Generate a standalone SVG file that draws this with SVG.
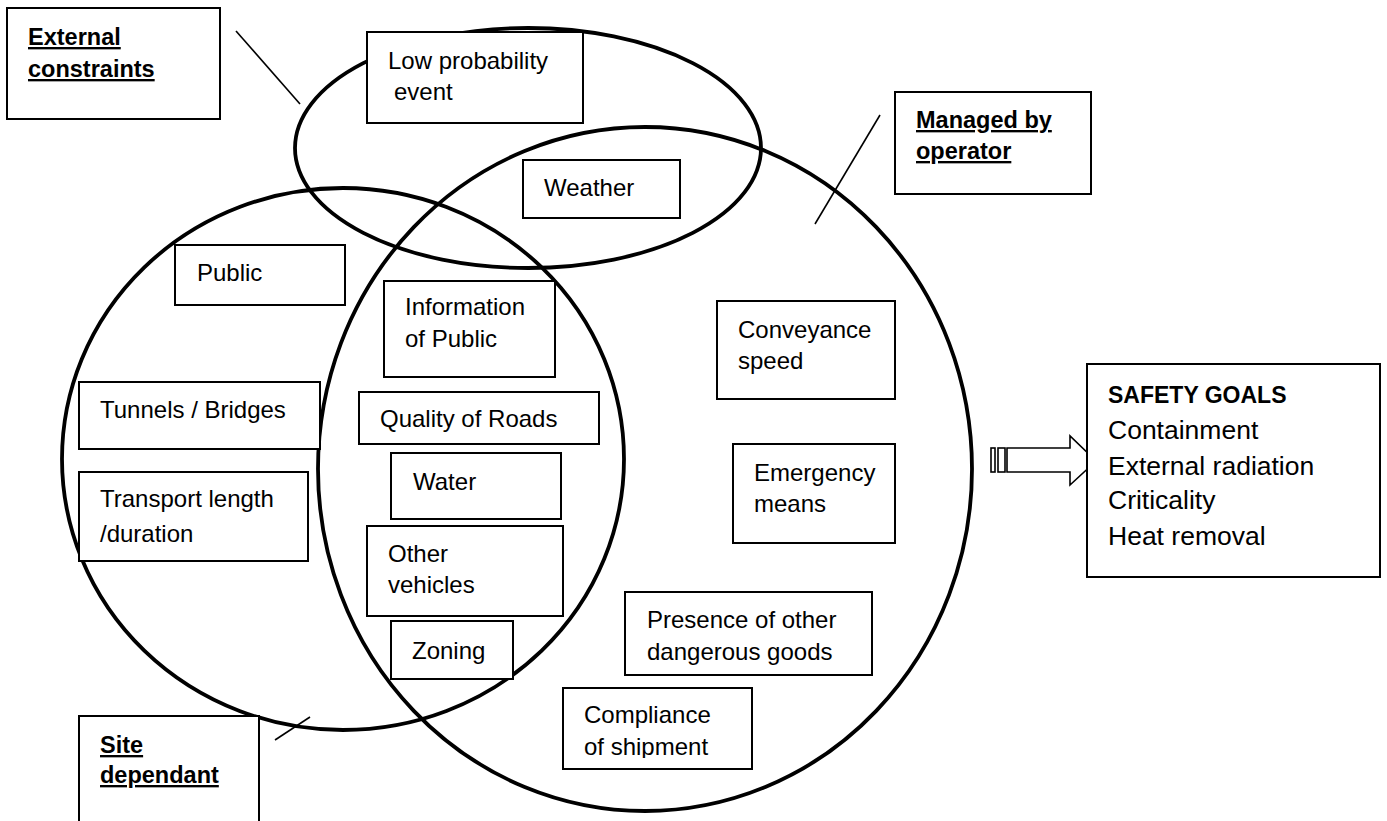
<svg xmlns="http://www.w3.org/2000/svg" width="1387" height="821" viewBox="0 0 1387 821">
<style>
  .bg { fill: #ffffff; }
  .ring { fill: none; stroke: #000; stroke-width: 3.8; }
  .box { fill: #ffffff; stroke: #000; stroke-width: 2; }
  .lead { stroke: #000; stroke-width: 1.6; fill: none; }
  .t { font-family: "Liberation Sans", Arial, sans-serif; font-size: 24px; fill: #000; }
  .h { font-family: "Liberation Sans", Arial, sans-serif; font-size: 23.5px; font-weight: bold; fill: #000; text-decoration: underline; }
  .g { font-family: "Liberation Sans", Arial, sans-serif; font-size: 26.5px; fill: #000; }
  .gb { font-family: "Liberation Sans", Arial, sans-serif; font-size: 23px; font-weight: bold; fill: #000; }
  .arrow { fill: #ffffff; stroke: #000; stroke-width: 1.6; stroke-linejoin: miter; }
</style>
<defs>
  <clipPath id="clipCompliance"><rect x="563" y="688" width="189" height="70"/></clipPath>
</defs>
<rect class="bg" x="0" y="0" width="1387" height="821"/>

<g id="sets">
  <ellipse class="ring" cx="343" cy="459" rx="281" ry="271"/>
  <ellipse class="ring" cx="645" cy="469" rx="327" ry="342"/>
  <ellipse class="ring" cx="528" cy="148" rx="233" ry="120"/>
</g>

<g id="connectors">
  <line class="lead" x1="236" y1="31" x2="300" y2="104"/>
  <line class="lead" x1="880" y1="115" x2="815" y2="224"/>
  <line class="lead" x1="275" y1="740" x2="310" y2="717"/>
  <rect class="arrow" x="991" y="448" width="4" height="24"/>
  <rect class="arrow" x="998" y="448" width="7" height="24"/>
  <path class="arrow" d="M1007,448 L1070,448 L1070,436 L1096,461 L1070,485 L1070,472 L1007,472 Z"/>
</g>

<g id="external-constraints">
  <rect class="box" x="7" y="8" width="213" height="111"/>
  <text class="h" x="28" y="45">External</text>
  <text class="h" x="28" y="77">constraints</text>
</g>

<g id="low-probability">
  <rect class="box" x="367" y="32" width="216" height="91"/>
  <text class="t" x="388" y="69">Low probability</text>
  <text class="t" x="394" y="100">event</text>
</g>

<g id="weather">
  <rect class="box" x="523" y="160" width="157" height="58"/>
  <text class="t" x="544" y="196">Weather</text>
</g>

<g id="managed-by-operator">
  <rect class="box" x="895" y="92" width="196" height="102"/>
  <text class="h" x="916" y="128">Managed by</text>
  <text class="h" x="916" y="159">operator</text>
</g>

<g id="public">
  <rect class="box" x="175" y="245" width="170" height="60"/>
  <text class="t" x="197" y="281">Public</text>
</g>

<g id="tunnels-bridges">
  <rect class="box" x="79" y="382" width="241" height="67"/>
  <text class="t" x="100" y="418">Tunnels / Bridges</text>
</g>

<g id="transport-length">
  <rect class="box" x="79" y="472" width="229" height="89"/>
  <text class="t" x="100" y="507">Transport length</text>
  <text class="t" x="100" y="542">/duration</text>
</g>

<g id="information-of-public">
  <rect class="box" x="384" y="281" width="171" height="96"/>
  <text class="t" x="405" y="315">Information</text>
  <text class="t" x="405" y="347">of Public</text>
</g>

<g id="quality-of-roads">
  <rect class="box" x="359" y="392" width="240" height="52"/>
  <text class="t" x="380" y="427">Quality of Roads</text>
</g>

<g id="water">
  <rect class="box" x="391" y="453" width="170" height="66"/>
  <text class="t" x="413" y="490">Water</text>
</g>

<g id="other-vehicles">
  <rect class="box" x="367" y="526" width="196" height="90"/>
  <text class="t" x="388" y="562">Other</text>
  <text class="t" x="388" y="593">vehicles</text>
</g>

<g id="zoning">
  <rect class="box" x="391" y="621" width="122" height="58"/>
  <text class="t" x="412" y="659">Zoning</text>
</g>

<g id="conveyance-speed">
  <rect class="box" x="717" y="301" width="178" height="98"/>
  <text class="t" x="738" y="338">Conveyance</text>
  <text class="t" x="738" y="369">speed</text>
</g>

<g id="emergency-means">
  <rect class="box" x="733" y="444" width="162" height="99"/>
  <text class="t" x="754" y="481">Emergency</text>
  <text class="t" x="754" y="512">means</text>
</g>

<g id="presence-dangerous-goods">
  <rect class="box" x="625" y="592" width="247" height="83"/>
  <text class="t" x="647" y="628">Presence of other</text>
  <text class="t" x="647" y="660">dangerous goods</text>
</g>

<g id="compliance-of-shipment">
  <rect class="box" x="563" y="688" width="189" height="81"/>
  <g clip-path="url(#clipCompliance)">
    <text class="t" x="584" y="723">Compliance</text>
    <text class="t" x="584" y="755">of shipment</text>
  </g>
</g>

<g id="site-dependant">
  <rect class="box" x="79" y="716" width="180" height="120"/>
  <text class="h" x="100" y="753">Site</text>
  <text class="h" x="100" y="783">dependant</text>
</g>

<g id="safety-goals">
  <rect class="box" x="1087" y="364" width="293" height="213"/>
  <text class="gb" x="1108" y="403">SAFETY GOALS</text>
  <text class="g" x="1108" y="439">Containment</text>
  <text class="g" x="1108" y="475">External radiation</text>
  <text class="g" x="1108" y="509">Criticality</text>
  <text class="g" x="1108" y="545">Heat removal</text>
</g>
</svg>
